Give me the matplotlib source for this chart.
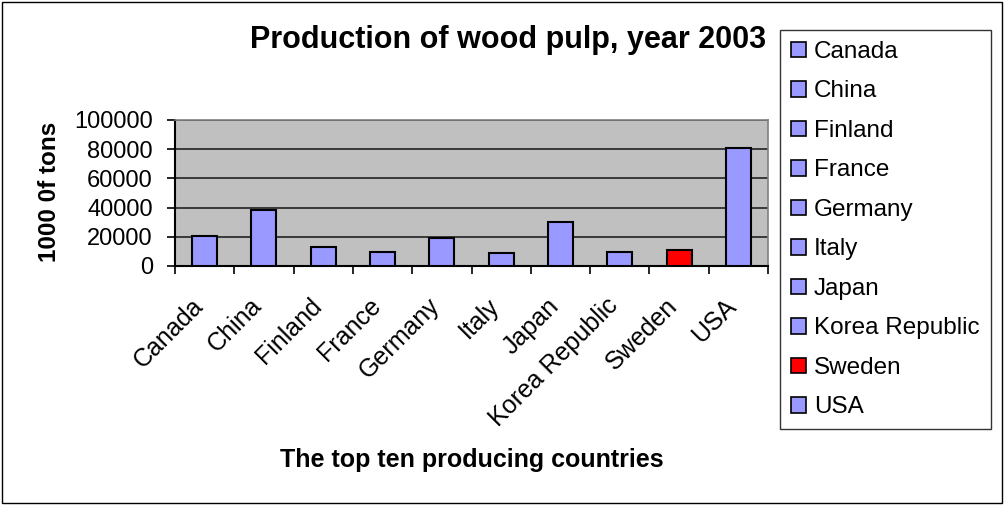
"""Wood pulp production bar chart"""

import numpy as np
import matplotlib
matplotlib.use("Agg")
import matplotlib.pyplot as plt
import matplotlib.transforms as mtransforms
from matplotlib.patches import Patch, Rectangle

countries = ["Canada", "China", "Finland", "France", "Germany",
             "Italy", "Japan", "Korea Republic", "Sweden", "USA"]
production = [20300, 38100, 13100, 9700, 19100, 9200, 30100, 9700, 11000, 81100]
yticks = [0, 20000, 40000, 60000, 80000, 100000]

blue = "#9999FF"
red = "#FF0000"
colors = [red if c == "Sweden" else blue for c in countries]

plt.rcParams['font.family'] = ['Liberation Sans', 'DejaVu Sans']

fig = plt.figure(figsize=(10.06, 5.05), dpi=100)
# outer chart border
fig.patches.append(Rectangle((0.002, 0.003), 0.994, 0.993, transform=fig.transFigure,
                             fill=False, edgecolor="black", linewidth=1))

ax = fig.add_axes([175 / 1006, 1 - 266 / 505, (768 - 175) / 1006, (266 - 120) / 505])
ax.set_facecolor("#C0C0C0")

x = np.arange(len(countries))
bars = ax.bar(x, production, width=0.42, color=colors, edgecolor="black", linewidth=1.5, zorder=3)

ax.set_xlim(-0.5, len(countries) - 0.5)
ax.set_ylim(0, 100000)
ax.set_yticks(yticks)
ax.set_yticklabels([str(v) for v in yticks], fontsize=17)
ax.yaxis.grid(True, color="#222222", linewidth=1.2, zorder=1)

# x ticks between categories, labels at centres
ax.set_xticks(np.arange(-0.5, len(countries), 1.0))
ax.set_xticklabels([])
ax.set_xticks(x, minor=True)
ax.set_xticklabels(countries, minor=True, rotation=45, ha="right",
                   rotation_mode="anchor", fontsize=18)
ax.tick_params(axis="x", which="minor", length=0, pad=20)
ax.tick_params(axis="x", which="major", length=6, width=1.2, direction="out")
ax.tick_params(axis="y", length=6, width=1.2, direction="out", pad=10)
shift = mtransforms.ScaledTranslation(-14 / 100, 0, fig.dpi_scale_trans)
for lab in ax.get_xticklabels(minor=True):
    lab.set_transform(lab.get_transform() + shift)

for s in ["top", "right"]:
    ax.spines[s].set_color("#808080")
    ax.spines[s].set_linewidth(1.2)
for s in ["left", "bottom"]:
    ax.spines[s].set_color("black")
    ax.spines[s].set_linewidth(1.5)

fig.text(50 / 1006, 1 - 192 / 505, "1000 0f tons", fontsize=17.5, fontweight="bold",
         rotation=90, ha="center", va="center")
fig.text(472 / 1006, 1 - 460 / 505, "The top ten producing countries", fontsize=18,
         fontweight="bold", ha="center", va="center")
fig.text(508 / 1006, 1 - 40 / 505, "Production of wood pulp, year 2003", fontsize=22,
         fontweight="bold", ha="center", va="center")

handles = [Patch(facecolor=c, edgecolor="black", linewidth=1.2) for c in colors]
leg = fig.legend(handles, countries, loc="upper left",
                 bbox_to_anchor=(780 / 1006, 1 - 30 / 505), fontsize=17.5,
                 frameon=True, fancybox=False, edgecolor="black",
                 handlelength=0.6, handleheight=0.6, handletextpad=0.35,
                 labelspacing=0.72, borderpad=0.45, borderaxespad=0)
leg.get_frame().set_linewidth(1.0)

fig.savefig("out.png", dpi=100)
